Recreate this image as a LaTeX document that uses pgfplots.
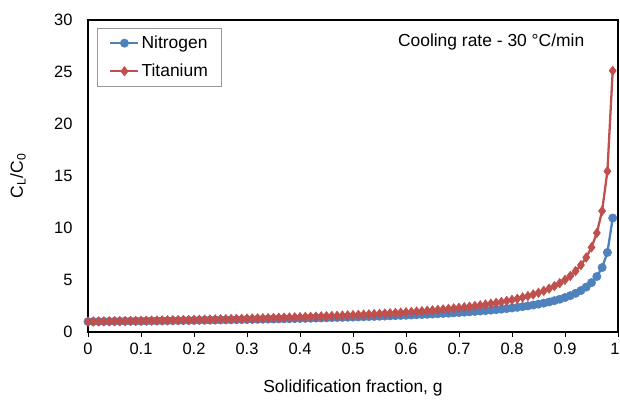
\documentclass[border=0pt]{standalone}
\usepackage{fontspec}
\setmainfont{Liberation Sans}
\usepackage{pgfplots}
\pgfplotsset{compat=1.18}
\definecolor{nblue}{HTML}{4F81BD}
\definecolor{tred}{HTML}{C0504D}
\begin{document}
\begin{tikzpicture}
\path[use as bounding box] (0,0) rectangle (620bp,400bp);
\begin{axis}[
  at={(88bp,68bp)}, anchor=south west,
  scale only axis, width=530bp, height=312bp,
  xmin=0, xmax=1, ymin=0, ymax=30,
  xtick={0,0.1,...,1}, ytick={0,5,...,30},
  xticklabels={0,0.1,0.2,0.3,0.4,0.5,0.6,0.7,0.8,0.9,{\kern-6bp 1}},
  tick align=outside, xtick pos=bottom, ytick pos=left,
  major tick length=5bp,
  ytick style={draw=none},
  xtick style={black, line width=0.8pt},
  axis line style={black, line width=1.3pt},
  /pgf/number format/assume math mode=true,
  ticklabel style={font=\fontsize{16.5}{19}\selectfont},
  xticklabel style={yshift=-3bp},
  yticklabel style={xshift=-7bp},
  xlabel={Solidification fraction, g},
  ylabel={C\textsubscript{L}/C\textsubscript{0}},
  label style={font=\fontsize{17.5}{20}\selectfont},
  xlabel style={at={(axis description cs:0.5,-0.18)}, anchor=center},
  ylabel style={at={(axis description cs:-0.132,0.5)}, anchor=center},
  legend style={at={(axis description cs:0.017,0.975)}, anchor=north west,
    draw=gray!80, line width=0.6pt, font=\fontsize{17.5}{20}\selectfont,
    inner xsep=12bp, inner ysep=6bp, row sep=10bp},
  legend cell align=left,
  legend image code/.code={
    \draw[#1] (0bp,0bp) -- (14bp,0bp) plot coordinates {(14bp,0bp)} -- (28bp,0bp);
  },
  clip=false,
]
\addplot[nblue, line width=2.3pt, mark=*, mark size=4.2bp, mark options={solid, fill=nblue, draw=nblue, line width=0.5pt}] coordinates {
(0.00,1.000)(0.01,1.005)(0.02,1.011)(0.03,1.016)(0.04,1.021)(0.05,1.027)(0.06,1.033)(0.07,1.038)(0.08,1.044)(0.09,1.050)
(0.10,1.056)(0.11,1.062)(0.12,1.069)(0.13,1.075)(0.14,1.082)(0.15,1.088)(0.16,1.095)(0.17,1.102)(0.18,1.109)(0.19,1.116)
(0.20,1.123)(0.21,1.130)(0.22,1.138)(0.23,1.146)(0.24,1.153)(0.25,1.161)(0.26,1.170)(0.27,1.178)(0.28,1.186)(0.29,1.195)
(0.30,1.204)(0.31,1.213)(0.32,1.222)(0.33,1.232)(0.34,1.241)(0.35,1.251)(0.36,1.261)(0.37,1.272)(0.38,1.282)(0.39,1.293)
(0.40,1.304)(0.41,1.316)(0.42,1.327)(0.43,1.339)(0.44,1.352)(0.45,1.365)(0.46,1.378)(0.47,1.391)(0.48,1.405)(0.49,1.419)
(0.50,1.434)(0.51,1.449)(0.52,1.465)(0.53,1.481)(0.54,1.497)(0.55,1.515)(0.56,1.533)(0.57,1.551)(0.58,1.570)(0.59,1.590)
(0.60,1.610)(0.61,1.632)(0.62,1.654)(0.63,1.677)(0.64,1.701)(0.65,1.726)(0.66,1.752)(0.67,1.780)(0.68,1.808)(0.69,1.839)
(0.70,1.870)(0.71,1.903)(0.72,1.939)(0.73,1.976)(0.74,2.015)(0.75,2.056)(0.76,2.100)(0.77,2.147)(0.78,2.198)(0.79,2.251)
(0.80,2.309)(0.81,2.372)(0.82,2.439)(0.83,2.513)(0.84,2.593)(0.85,2.682)(0.86,2.780)(0.87,2.889)(0.88,3.012)(0.89,3.151)
(0.90,3.311)(0.91,3.498)(0.92,3.719)(0.93,3.986)(0.94,4.319)(0.95,4.748)(0.96,5.332)(0.97,6.193)(0.98,7.646)(0.99,10.96)
};
\addlegendentry{Nitrogen}
\addplot[tred, line width=2.3pt, mark=diamond*, mark size=4.8bp, mark options={solid, fill=tred, draw=tred, line width=0.5pt}] coordinates {
(0.00,1.000)(0.01,1.007)(0.02,1.014)(0.03,1.022)(0.04,1.029)(0.05,1.037)(0.06,1.044)(0.07,1.052)(0.08,1.060)(0.09,1.068)
(0.10,1.077)(0.11,1.085)(0.12,1.094)(0.13,1.102)(0.14,1.111)(0.15,1.120)(0.16,1.130)(0.17,1.139)(0.18,1.149)(0.19,1.159)
(0.20,1.169)(0.21,1.179)(0.22,1.190)(0.23,1.201)(0.24,1.212)(0.25,1.223)(0.26,1.235)(0.27,1.246)(0.28,1.259)(0.29,1.271)
(0.30,1.284)(0.31,1.297)(0.32,1.310)(0.33,1.324)(0.34,1.338)(0.35,1.352)(0.36,1.367)(0.37,1.382)(0.38,1.397)(0.39,1.413)
(0.40,1.430)(0.41,1.447)(0.42,1.464)(0.43,1.482)(0.44,1.501)(0.45,1.520)(0.46,1.539)(0.47,1.560)(0.48,1.580)(0.49,1.602)
(0.50,1.624)(0.51,1.648)(0.52,1.672)(0.53,1.696)(0.54,1.722)(0.55,1.749)(0.56,1.777)(0.57,1.805)(0.58,1.835)(0.59,1.867)
(0.60,1.899)(0.61,1.933)(0.62,1.969)(0.63,2.006)(0.64,2.045)(0.65,2.085)(0.66,2.128)(0.67,2.173)(0.68,2.220)(0.69,2.270)
(0.70,2.323)(0.71,2.379)(0.72,2.438)(0.73,2.501)(0.74,2.568)(0.75,2.639)(0.76,2.716)(0.77,2.798)(0.78,2.886)(0.79,2.982)
(0.80,3.085)(0.81,3.198)(0.82,3.321)(0.83,3.457)(0.84,3.607)(0.85,3.773)(0.86,3.960)(0.87,4.171)(0.88,4.411)(0.89,4.689)
(0.90,5.012)(0.91,5.395)(0.92,5.860)(0.93,6.433)(0.94,7.166)(0.95,8.142)(0.96,9.518)(0.97,11.64)(0.98,15.46)(0.99,25.12)
};
\addlegendentry{Titanium}
\node[anchor=east, font=\fontsize{17.5}{20}\selectfont] at (axis description cs:0.943,0.929) {Cooling rate - 30 °C/min};
\end{axis}
\end{tikzpicture}
\end{document}
